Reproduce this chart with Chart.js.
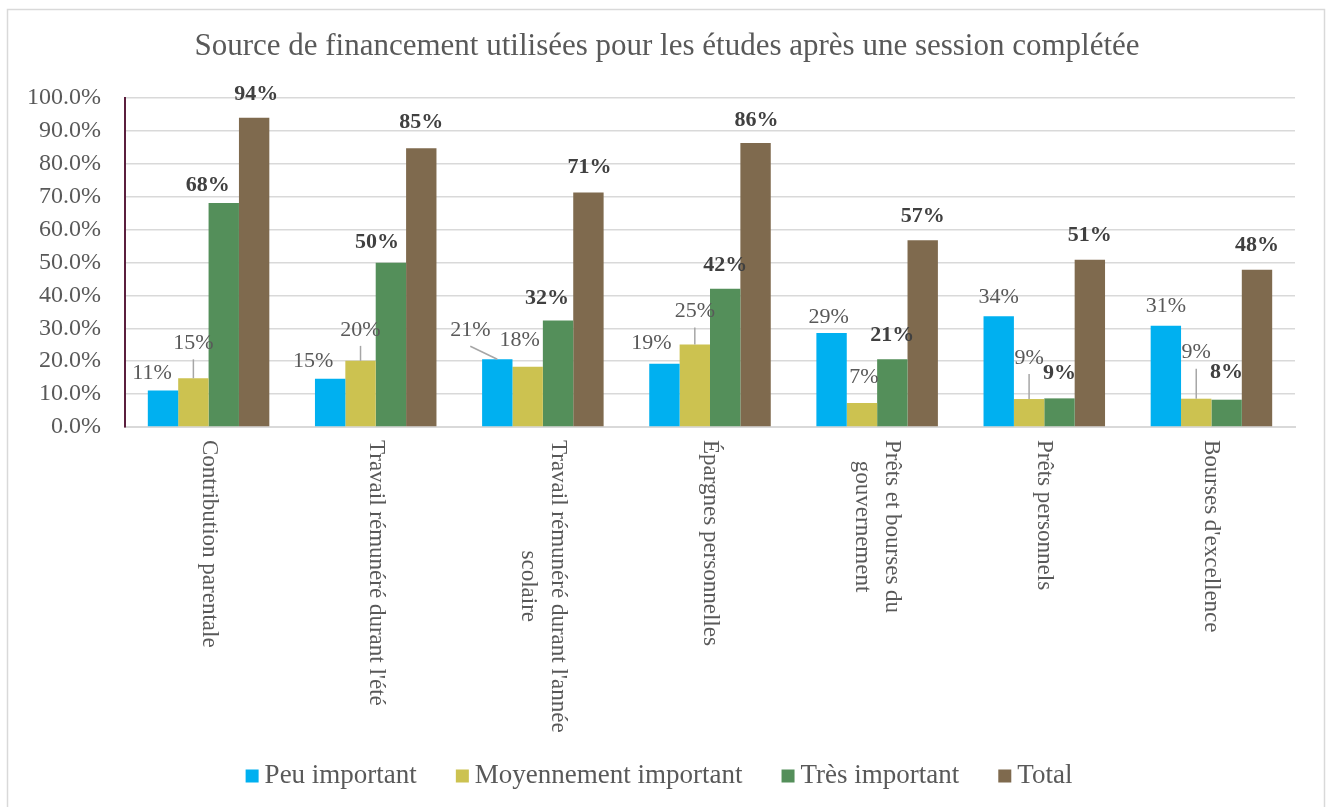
<!DOCTYPE html>
<html>
<head>
<meta charset="utf-8">
<script src="https://cdn.jsdelivr.net/npm/chart.js@4.4.0/dist/chart.umd.min.js"></script>
<style>
  html, body { margin: 0; padding: 0; background: #fff; }
  #wrap { width: 1330px; height: 807px; }
</style>
</head>
<body>
<div id="wrap"><canvas id="myChart"></canvas></div>
<script>
const chartTitle = 'Source de financement utilisées pour les études après une session complétée';

const categories = [
  'Contribution parentale',
  "Travail rémunéré durant l'été",
  ["Travail rémunéré durant l'année", 'scolaire'],
  'Épargnes personnelles',
  ['Prêts et bourses du', 'gouvernement'],
  'Prêts personnels',
  "Bourses d'excellence"
];

const seriesNames = ['Peu important', 'Moyennement important', 'Très important', 'Total'];

const peuImportant = [11.1, 14.7, 20.6, 19.2, 28.6, 33.7, 30.8];
const moyennement  = [14.8, 20.1, 18.3, 25.1, 7.3, 8.5, 8.6];
const tresImportant = [68.1, 49.9, 32.4, 42.0, 20.6, 8.7, 8.3];
const total        = [94.0, 84.7, 71.3, 86.3, 56.8, 50.8, 47.8];

const yTicks = [0, 10, 20, 30, 40, 50, 60, 70, 80, 90, 100];

const colors = ['#00B0F0', '#CCC250', '#548F5A', '#7F6A4E'];

// label placement (dx, dy from the top centre of each bar), as moved by hand in the original
const labelOffsets = [
  [[-11,-17],[-17,-17],[-27,-29],[-13,-21],[-3,-16],[0,-19],[0,-19]],
  [[0,-35],[0,-31],[-8,-27],[0,-33],[2,-26],[0,-41],[0,-46]],
  [[-16,-18],[-14,-21],[-11,-22],[0,-24],[0,-24],[0,-25],[0,-27]],
  [[2,-23],[0,-26],[1,-25],[1,-23],[0,-24],[0,-25],[0,-24]]
];
const leaderLines = [
  [0,0,1,0,0,0,0],
  [1,1,0,1,0,1,1],
  [0,0,0,0,0,0,0],
  [0,0,0,0,0,0,0]
];
const boldLabels = [false, false, true, true];

const serif = '"Liberation Serif", "DejaVu Serif", serif';

const framePlugin = {
  id: 'frame',
  beforeDraw(chart) {
    const c = chart.ctx;
    c.save();
    c.fillStyle = '#fff';
    c.fillRect(0, 0, chart.width, chart.height);
    c.strokeStyle = '#d9d9d9';
    c.lineWidth = 1.5;
    c.strokeRect(7.5, 9.5, 1317, 820);
    c.restore();
  },
  afterDraw(chart) {
    const c = chart.ctx;
    c.save();
    // title
    c.font = '31px ' + serif;
    c.fillStyle = '#595959';
    c.textAlign = 'center';
    c.textBaseline = 'middle';
    c.fillText(chartTitle, 667, 47);

    // category labels, turned a quarter clockwise
    const xs = chart.scales.x;
    c.font = '23px ' + serif;
    c.fillStyle = '#595959';
    c.textBaseline = 'middle';
    const lh = 30;
    categories.forEach((lab, i) => {
      const lines = Array.isArray(lab) ? lab : [lab];
      const w = Math.max(...lines.map(l => c.measureText(l).width));
      const cx = xs.getPixelForValue(i);
      c.save();
      c.translate(cx, chart.chartArea.bottom + 13);
      c.rotate(Math.PI / 2);
      lines.forEach((l, k) => {
        const lw = c.measureText(l).width;
        c.textAlign = 'left';
        c.fillText(l, (w - lw) / 2, (k - (lines.length - 1) / 2) * lh);
      });
      c.restore();
    });

    // legend
    c.font = '27px ' + serif;
    c.textAlign = 'left';
    const box = 13, gapBox = 6, gapItem = 39;
    const widths = seriesNames.map(n => c.measureText(n).width);
    let totalW = widths.reduce((a, b) => a + b, 0) + seriesNames.length * (box + gapBox) + (seriesNames.length - 1) * gapItem;
    let x = 659 - totalW / 2;
    const ly = 776;
    seriesNames.forEach((n, i) => {
      c.fillStyle = colors[i];
      c.fillRect(x, ly - box / 2, box, box);
      x += box + gapBox;
      c.fillStyle = '#595959';
      c.fillText(n, x, ly);
      x += widths[i] + gapItem;
    });
    c.restore();
  }
};

const labelPlugin = {
  id: 'barLabels',
  afterDatasetsDraw(chart) {
    const c = chart.ctx;
    c.save();
    c.textAlign = 'center';
    c.textBaseline = 'middle';
    chart.data.datasets.forEach((ds, i) => {
      const meta = chart.getDatasetMeta(i);
      meta.data.forEach((bar, j) => {
        const x = bar.x + labelOffsets[i][j][0];
        const y = bar.y + labelOffsets[i][j][1];
        if (leaderLines[i][j]) {
          c.strokeStyle = '#a6a6a6';
          c.lineWidth = 1.5;
          c.beginPath();
          c.moveTo(x, y + 16);
          c.lineTo(bar.x, bar.y);
          c.stroke();
        }
        c.font = (boldLabels[i] ? 'bold ' : '') + '22px ' + serif;
        c.fillStyle = boldLabels[i] ? '#404040' : '#595959';
        c.fillText(Math.round(ds.data[j]) + '%', x, y);
      });
    });
    c.restore();
  }
};

const seriesData = [peuImportant, moyennement, tresImportant, total];

const ctx = document.getElementById('myChart').getContext('2d');
const chart = new Chart(ctx, {
  type: 'bar',
  data: {
    labels: categories,
    datasets: seriesData.map((d, i) => ({
      label: seriesNames[i],
      data: d,
      backgroundColor: colors[i],
      borderWidth: 0,
      categoryPercentage: 0.727,
      barPercentage: 1.0
    }))
  },
  options: {
    responsive: true,
    maintainAspectRatio: false,
    animation: false,
    layout: { padding: { top: 98, left: 7, right: 35, bottom: 0 } },
    plugins: {
      legend: { display: false },
      title: { display: false },
      tooltip: { enabled: false }
    },
    scales: {
      x: {
        ticks: { display: false },
        grid: { display: false },
        border: { display: true, color: '#d9d9d9', width: 2 },
        afterFit(scale) { scale.height = 380; }
      },
      y: {
        min: 0,
        max: 100,
        afterBuildTicks(scale) { scale.ticks = yTicks.map(v => ({ value: v })); },
        ticks: {
          color: '#595959',
          padding: 24,
          autoSkip: false,
          font: { family: serif, size: 24, lineHeight: 1 },
          callback: v => v.toFixed(1) + '%'
        },
        grid: { color: '#d9d9d9', lineWidth: 1.5, drawTicks: false },
        border: { display: true, color: '#5b1f3e', width: 2 },
        afterFit(scale) { scale.width = 118; }
      }
    }
  },
  plugins: [framePlugin, labelPlugin]
});
</script>
</body>
</html>
